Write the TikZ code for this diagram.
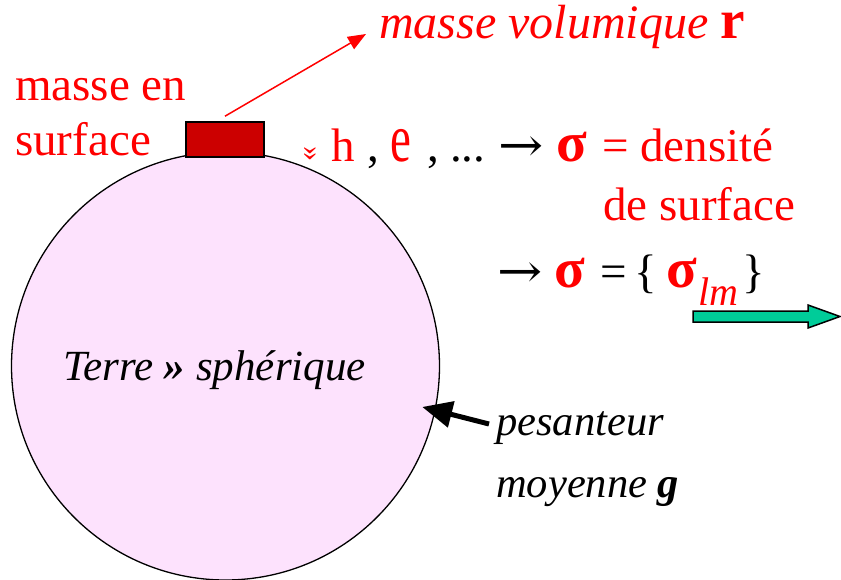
\documentclass[tikz,border=0pt]{standalone}
\usepackage{fontspec}
\setmainfont{Liberation Serif}
\newfontfamily\fr{Liberation Serif}
\newfontfamily\farrow{DejaVu Serif}
\usetikzlibrary{arrows.meta}
\definecolor{pinkfill}{RGB}{253,226,253}
\definecolor{boxred}{RGB}{204,0,0}
\definecolor{txtred}{RGB}{255,0,0}
\definecolor{arrowgreen}{RGB}{0,204,153}
\newcommand{\bigsig}{\scalebox{1.2}[1.2]{\bfseries σ}}
\newcommand{\bigarr}{\scalebox{1.15}[1]{\farrow →}}
\begin{document}
\begin{tikzpicture}[x=1pt,y=-1pt,
  lbl/.style={inner sep=0pt, anchor=base west},
  big/.style={font=\fr\fontsize{47}{56}\selectfont},
  redtxt/.style={lbl, big, text=txtred},
  blacktxt/.style={lbl, big, text=black},
  itlbl/.style={lbl, font=\fr\fontsize{42.5}{50}\selectfont\itshape}]
\useasboundingbox (0,0) rectangle (841,579);
% Earth
\node[circle, draw, line width=1.3pt, fill=pinkfill, minimum size=428pt, inner sep=0pt] (earth) at (225.5,366) {};
% surface mass
\node[draw, line width=1.6pt, fill=boxred, minimum width=78pt, minimum height=35pt, inner sep=0pt] (mass) at (225,139.5) {};
% labels
\node[redtxt] (mass1) at (15,100) {masse en};
\node[redtxt] (mass2) at (15,155) {surface};
\node[lbl, text=txtred, font=\fr\fontsize{48}{56}\selectfont\itshape] (vol) at (379,38) {masse volumique \scalebox{1.15}{\textbf{\upshape r}}};
\coordinate (voltip) at (366,34);
\draw[txtred, line width=1.5pt, -{Triangle[length=18pt,width=14pt]}] ([yshift=5pt]mass.north) -- (voltip);
% line 1
\node[inner sep=0pt, text=txtred, font=\fr\fontsize{30}{32}\selectfont, rotate=-90] (chev) at (310,154) {»};
\node[redtxt] (h) at (331,161) {h};
\node[blacktxt] (c1) at (367,161) {,};
\node[redtxt] (e) at (390,161) {\scalebox{1}[1.45]{e}};
\node[blacktxt] (c2) at (427,161) {,};
\node[blacktxt] (dots) at (450,161) {...};
\node[blacktxt] (arr1) at (498,161) {\bigarr};
\node[redtxt] (sig1) at (556,161) {\bigsig};
\node[redtxt] (dens) at (602,161) {= densité};
\node[redtxt] (l2) at (603,220) {de surface};
% line 3
\node[blacktxt] (arr2) at (497,287) {\bigarr};
\node[redtxt] (sig2) at (554,287) {\bigsig};
\node[blacktxt] (eq2) at (600,287) {=};
\node[blacktxt] (lbr) at (634,287) {\{};
\node[redtxt] (sig3) at (666,287) {\bigsig};
\node[lbl, text=txtred, font=\fr\fontsize{40}{48}\selectfont\itshape] (lm) at (698,305) {lm};
\node[blacktxt] (rbr) at (742,287) {\}};
% green arrow
\draw[line width=1.5pt, fill=arrowgreen, line join=miter]
  (693,311) -- (808,311) -- (808,305) -- (840,316.5) -- (808,328) -- (808,322) -- (693,322) -- cycle;
% Earth label
\node[lbl, font=\fr\fontsize{43}{48}\selectfont\itshape] (terre) at (63,380) {Terre \textbf{»} sphérique};
% gravity
\node[itlbl] (pes) at (496,435) {pesanteur};
\node[itlbl] (moy) at (496,497) {moyenne \textbf{g}};
\coordinate (gstart) at (489,424);
\draw[line width=5pt, -{Triangle[length=30pt,width=26pt]}] (gstart) -- ([xshift=-14pt]earth.-11);
\end{tikzpicture}
\end{document}
